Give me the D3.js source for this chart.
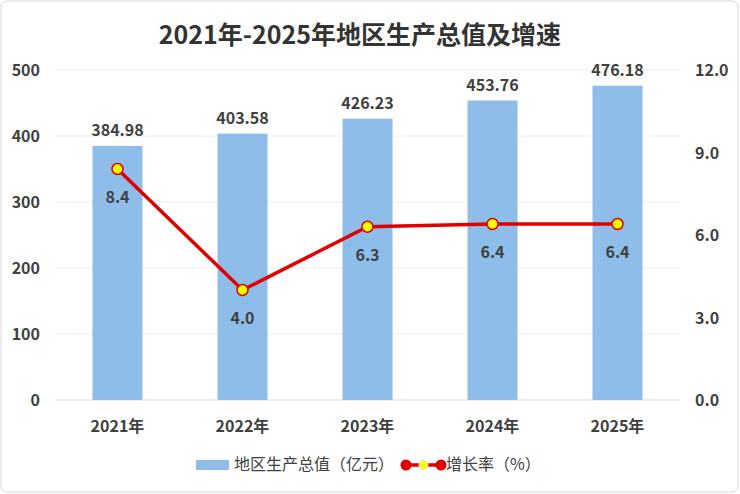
<!DOCTYPE html><html><head><meta charset="utf-8"><script src="https://cdn.jsdelivr.net/npm/d3@7"></script>
<style>body{margin:0;background:#fff}text{font-family:"Noto Sans CJK SC","Noto Sans",sans-serif}</style></head><body><svg id="c" width="740" height="494"></svg>
<script>
const years=["2021年","2022年","2023年","2024年","2025年"];
const gdp=[384.98,403.58,426.23,453.76,476.18];
const growth=[8.4,4.0,6.3,6.4,6.4];
const leftTicks=[0,100,200,300,400,500];
const rightTicks=[0,3,6,9,12];
const svg=d3.select("#c");
svg.append("rect").attr("x",1).attr("y",1).attr("width",737).attr("height",491).attr("rx",6).attr("fill","#fff").attr("stroke","#d9d9d9");
const x=d3.scaleBand().domain(years).range([55,680]).paddingInner(0.6).paddingOuter(0.3);
const yL=d3.scaleLinear().domain([0,500]).range([400,70]);
const yR=d3.scaleLinear().domain([0,12]).range([400,70]);
svg.append("text").attr("x",360).attr("y",44).attr("text-anchor","middle").attr("font-size",25).attr("font-weight","bold").attr("fill","#333").text("2021年-2025年地区生产总值及增速");
svg.selectAll(".g").data(leftTicks).join("line").attr("x1",55).attr("x2",680).attr("y1",d=>yL(d)).attr("y2",d=>yL(d)).attr("stroke",d=>d?"#eeeeee":"#d9d9d9");
svg.selectAll(".lt").data(leftTicks).join("text").attr("x",40).attr("y",d=>yL(d)+6).attr("text-anchor","end").attr("font-size",16).attr("font-weight","bold").attr("fill","#404040").text(d=>d);
svg.selectAll(".rt").data(rightTicks).join("text").attr("x",695).attr("y",d=>yR(d)+6).attr("text-anchor","start").attr("font-size",16).attr("font-weight","bold").attr("fill","#404040").text(d=>d.toFixed(1));
svg.selectAll(".b").data(gdp).join("rect").attr("x",(d,i)=>x(years[i])).attr("width",x.bandwidth()).attr("y",d=>yL(d)).attr("height",d=>400-yL(d)).attr("fill","#8dbde8");
svg.selectAll(".bl").data(gdp).join("text").attr("x",(d,i)=>x(years[i])+x.bandwidth()/2).attr("y",d=>yL(d)-10).attr("text-anchor","middle").attr("font-size",16).attr("font-weight","bold").attr("fill","#404040").text(d=>d.toFixed(2));
svg.selectAll(".xl").data(years).join("text").attr("x",d=>x(d)+x.bandwidth()/2).attr("y",432).attr("text-anchor","middle").attr("font-size",16).attr("font-weight","bold").attr("fill","#404040").text(d=>d);
const cx=i=>x(years[i])+x.bandwidth()/2;
svg.append("path").attr("d",d3.line().x((d,i)=>cx(i)).y(d=>yR(d))(growth)).attr("fill","none").attr("stroke","#e00000").attr("stroke-width",3.5);
svg.selectAll(".p").data(growth).join("circle").attr("cx",(d,i)=>cx(i)).attr("cy",d=>yR(d)).attr("r",5.5).attr("fill","#ffff00").attr("stroke","#e00000").attr("stroke-width",1.5);
svg.selectAll(".pl").data(growth).join("text").attr("x",(d,i)=>cx(i)).attr("y",d=>yR(d)+34).attr("text-anchor","middle").attr("font-size",16).attr("font-weight","bold").attr("fill","#404040").text(d=>d.toFixed(1));
svg.append("rect").attr("x",196).attr("y",460).attr("width",33).attr("height",10).attr("fill","#8dbde8");
svg.append("text").attr("x",234).attr("y",470).attr("font-size",16).attr("fill","#404040").text("地区生产总值（亿元）");
svg.append("line").attr("x1",406).attr("x2",441).attr("y1",465).attr("y2",465).attr("stroke","#e00000").attr("stroke-width",3.5);
[406,441].forEach(v=>svg.append("circle").attr("cx",v).attr("cy",465).attr("r",5.5).attr("fill","#e00000"));
svg.append("circle").attr("cx",423.5).attr("cy",465).attr("r",4.5).attr("fill","#ffff00").attr("stroke","#ddd");
svg.append("text").attr("x",446).attr("y",470).attr("font-size",16).attr("fill","#404040").text("增长率（%）");
</script></body></html>
